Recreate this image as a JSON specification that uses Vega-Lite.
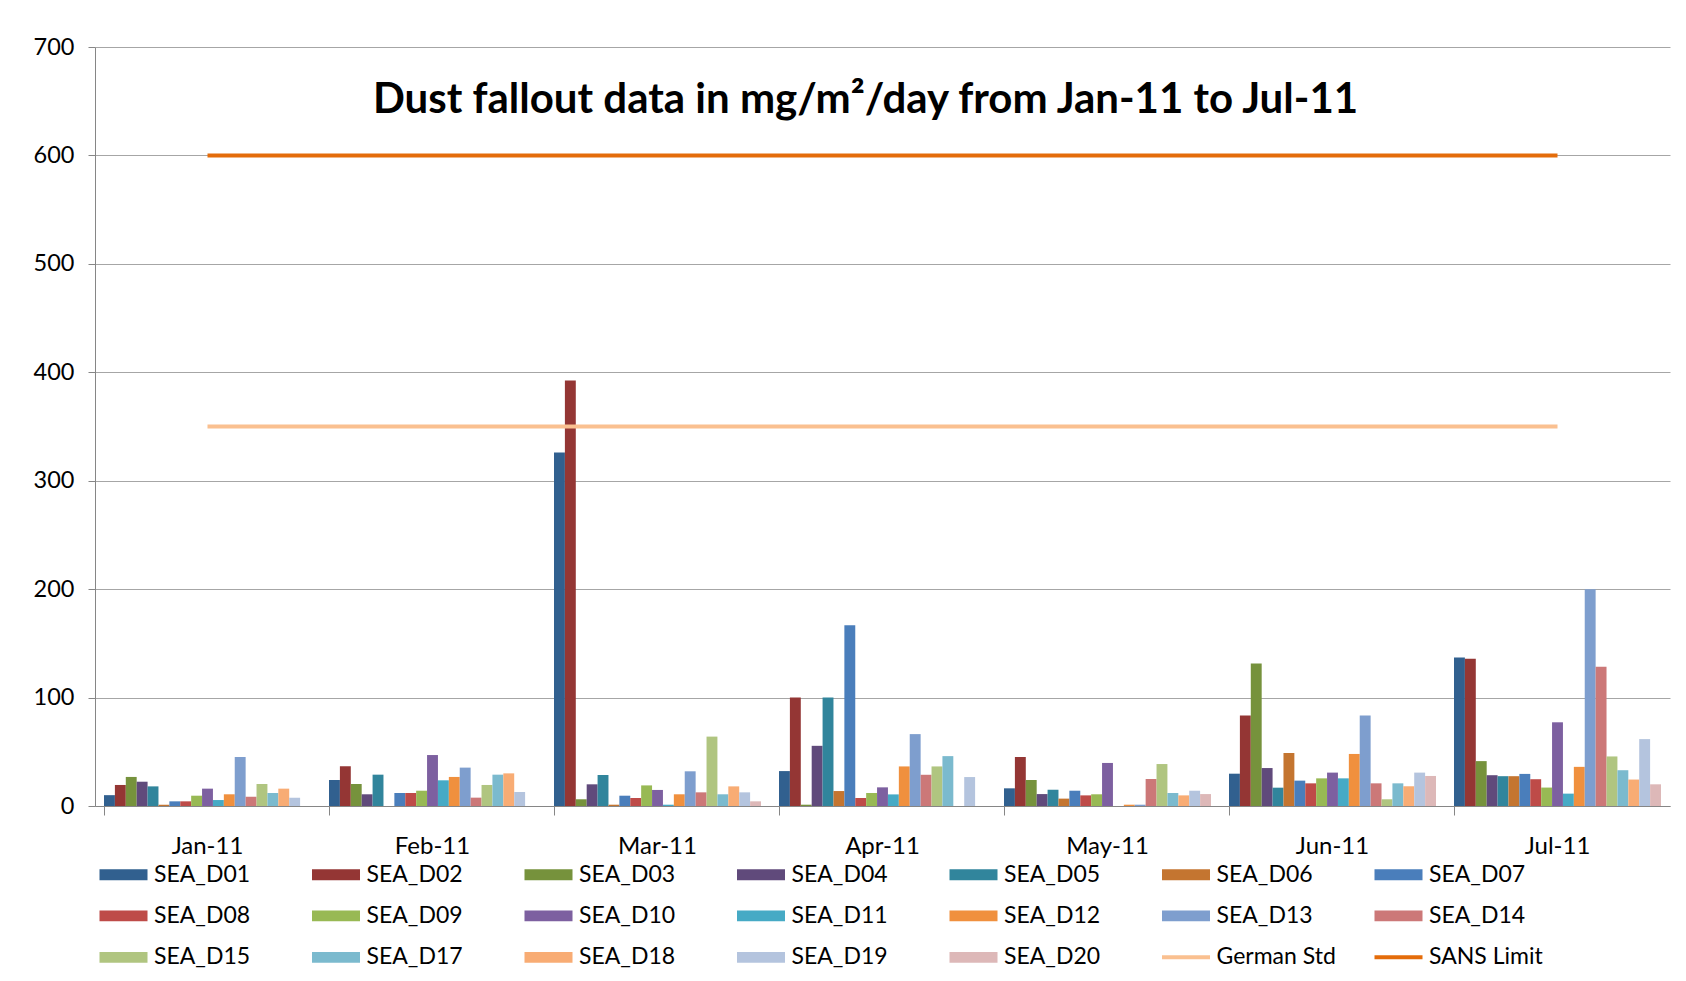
{
  "$schema": "https://vega.github.io/schema/vega-lite/v6.json",
  "width": 1575,
  "height": 759,
  "autosize": {"type": "none"},
  "padding": {"left": 95, "top": 47, "right": 16, "bottom": 175},
  "background": "white",
  "config": {"font": "Lato", "view": {"stroke": null}},
  "title": {"text": "Dust fallout data in mg/m²/day from Jan-11 to Jul-11", "fontSize": 42, "fontWeight": "bold", "font": "Lato", "color": "#000000", "anchor": "middle", "offset": -87, "dx": -17},
  "datasets": {
    "bars": [
      {"m":"Jan-11","s":"SEA_D01","v":10},{"m":"Jan-11","s":"SEA_D02","v":19.4},{"m":"Jan-11","s":"SEA_D03","v":26.8},{"m":"Jan-11","s":"SEA_D04","v":22.4},{"m":"Jan-11","s":"SEA_D05","v":18.1},{"m":"Jan-11","s":"SEA_D06","v":1.2},{"m":"Jan-11","s":"SEA_D07","v":4.3},{"m":"Jan-11","s":"SEA_D08","v":4.3},{"m":"Jan-11","s":"SEA_D09","v":9.5},{"m":"Jan-11","s":"SEA_D10","v":16},{"m":"Jan-11","s":"SEA_D11","v":5.5},{"m":"Jan-11","s":"SEA_D12","v":10.8},{"m":"Jan-11","s":"SEA_D13","v":45.2},{"m":"Jan-11","s":"SEA_D14","v":8.6},{"m":"Jan-11","s":"SEA_D15","v":20.3},{"m":"Jan-11","s":"SEA_D17","v":12},{"m":"Jan-11","s":"SEA_D18","v":16},{"m":"Jan-11","s":"SEA_D19","v":7.7},
      {"m":"Feb-11","s":"SEA_D01","v":24},{"m":"Feb-11","s":"SEA_D02","v":36.6},{"m":"Feb-11","s":"SEA_D03","v":20.3},{"m":"Feb-11","s":"SEA_D04","v":10.8},{"m":"Feb-11","s":"SEA_D05","v":28.9},{"m":"Feb-11","s":"SEA_D07","v":12},{"m":"Feb-11","s":"SEA_D08","v":12},{"m":"Feb-11","s":"SEA_D09","v":14.1},{"m":"Feb-11","s":"SEA_D10","v":47},{"m":"Feb-11","s":"SEA_D11","v":23.7},{"m":"Feb-11","s":"SEA_D12","v":26.8},{"m":"Feb-11","s":"SEA_D13","v":35.4},{"m":"Feb-11","s":"SEA_D14","v":7.7},{"m":"Feb-11","s":"SEA_D15","v":19.4},{"m":"Feb-11","s":"SEA_D17","v":28.9},{"m":"Feb-11","s":"SEA_D18","v":30.1},{"m":"Feb-11","s":"SEA_D19","v":12.9},
      {"m":"Mar-11","s":"SEA_D01","v":326},{"m":"Mar-11","s":"SEA_D02","v":392.4},{"m":"Mar-11","s":"SEA_D03","v":6.2},{"m":"Mar-11","s":"SEA_D04","v":20},{"m":"Mar-11","s":"SEA_D05","v":28.6},{"m":"Mar-11","s":"SEA_D06","v":1.2},{"m":"Mar-11","s":"SEA_D07","v":9.5},{"m":"Mar-11","s":"SEA_D08","v":7.4},{"m":"Mar-11","s":"SEA_D09","v":19},{"m":"Mar-11","s":"SEA_D10","v":14.8},{"m":"Mar-11","s":"SEA_D11","v":1.2},{"m":"Mar-11","s":"SEA_D12","v":10.8},{"m":"Mar-11","s":"SEA_D13","v":32},{"m":"Mar-11","s":"SEA_D14","v":12.6},{"m":"Mar-11","s":"SEA_D15","v":64},{"m":"Mar-11","s":"SEA_D17","v":10.8},{"m":"Mar-11","s":"SEA_D18","v":18.1},{"m":"Mar-11","s":"SEA_D19","v":12.6},{"m":"Mar-11","s":"SEA_D20","v":4.3},
      {"m":"Apr-11","s":"SEA_D01","v":32.2},{"m":"Apr-11","s":"SEA_D02","v":100},{"m":"Apr-11","s":"SEA_D03","v":1.2},{"m":"Apr-11","s":"SEA_D04","v":55.5},{"m":"Apr-11","s":"SEA_D05","v":100},{"m":"Apr-11","s":"SEA_D06","v":13.8},{"m":"Apr-11","s":"SEA_D07","v":166.6},{"m":"Apr-11","s":"SEA_D08","v":7.4},{"m":"Apr-11","s":"SEA_D09","v":12},{"m":"Apr-11","s":"SEA_D10","v":17.2},{"m":"Apr-11","s":"SEA_D11","v":10.7},{"m":"Apr-11","s":"SEA_D12","v":36.5},{"m":"Apr-11","s":"SEA_D13","v":66.3},{"m":"Apr-11","s":"SEA_D14","v":28.8},{"m":"Apr-11","s":"SEA_D15","v":36.5},{"m":"Apr-11","s":"SEA_D17","v":46},{"m":"Apr-11","s":"SEA_D19","v":26.7},
      {"m":"May-11","s":"SEA_D01","v":16.3},{"m":"May-11","s":"SEA_D02","v":45.2},{"m":"May-11","s":"SEA_D03","v":24},{"m":"May-11","s":"SEA_D04","v":11},{"m":"May-11","s":"SEA_D05","v":15},{"m":"May-11","s":"SEA_D06","v":6.8},{"m":"May-11","s":"SEA_D07","v":14.1},{"m":"May-11","s":"SEA_D08","v":9.8},{"m":"May-11","s":"SEA_D09","v":10.8},{"m":"May-11","s":"SEA_D10","v":39.7},{"m":"May-11","s":"SEA_D12","v":1.2},{"m":"May-11","s":"SEA_D13","v":1.2},{"m":"May-11","s":"SEA_D14","v":24.9},{"m":"May-11","s":"SEA_D15","v":38.7},{"m":"May-11","s":"SEA_D17","v":12},{"m":"May-11","s":"SEA_D18","v":9.8},{"m":"May-11","s":"SEA_D19","v":14.1},{"m":"May-11","s":"SEA_D20","v":11},
      {"m":"Jun-11","s":"SEA_D01","v":29.8},{"m":"Jun-11","s":"SEA_D02","v":83.4},{"m":"Jun-11","s":"SEA_D03","v":131.4},{"m":"Jun-11","s":"SEA_D04","v":35},{"m":"Jun-11","s":"SEA_D05","v":16.9},{"m":"Jun-11","s":"SEA_D06","v":48.9},{"m":"Jun-11","s":"SEA_D07","v":23.4},{"m":"Jun-11","s":"SEA_D08","v":20.9},{"m":"Jun-11","s":"SEA_D09","v":25.5},{"m":"Jun-11","s":"SEA_D10","v":30.8},{"m":"Jun-11","s":"SEA_D11","v":25.5},{"m":"Jun-11","s":"SEA_D12","v":48},{"m":"Jun-11","s":"SEA_D13","v":83.4},{"m":"Jun-11","s":"SEA_D14","v":20.9},{"m":"Jun-11","s":"SEA_D15","v":6.2},{"m":"Jun-11","s":"SEA_D17","v":20.9},{"m":"Jun-11","s":"SEA_D18","v":18.2},{"m":"Jun-11","s":"SEA_D19","v":30.8},{"m":"Jun-11","s":"SEA_D20","v":27.7},
      {"m":"Jul-11","s":"SEA_D01","v":137},{"m":"Jul-11","s":"SEA_D02","v":135.8},{"m":"Jul-11","s":"SEA_D03","v":41.4},{"m":"Jul-11","s":"SEA_D04","v":28.4},{"m":"Jul-11","s":"SEA_D05","v":27.5},{"m":"Jul-11","s":"SEA_D06","v":27.5},{"m":"Jul-11","s":"SEA_D07","v":29.6},{"m":"Jul-11","s":"SEA_D08","v":24.7},{"m":"Jul-11","s":"SEA_D09","v":17},{"m":"Jul-11","s":"SEA_D10","v":77.2},{"m":"Jul-11","s":"SEA_D11","v":11.4},{"m":"Jul-11","s":"SEA_D12","v":36.1},{"m":"Jul-11","s":"SEA_D13","v":200},{"m":"Jul-11","s":"SEA_D14","v":128.4},{"m":"Jul-11","s":"SEA_D15","v":45.7},{"m":"Jul-11","s":"SEA_D17","v":33},{"m":"Jul-11","s":"SEA_D18","v":24.4},{"m":"Jul-11","s":"SEA_D19","v":61.7},{"m":"Jul-11","s":"SEA_D20","v":20}
    ],
    "limits": [
      {"m":"Jan-11","s":"German Std","v":350},{"m":"Feb-11","s":"German Std","v":350},{"m":"Mar-11","s":"German Std","v":350},{"m":"Apr-11","s":"German Std","v":350},{"m":"May-11","s":"German Std","v":350},{"m":"Jun-11","s":"German Std","v":350},{"m":"Jul-11","s":"German Std","v":350},
      {"m":"Jan-11","s":"SANS Limit","v":600},{"m":"Feb-11","s":"SANS Limit","v":600},{"m":"Mar-11","s":"SANS Limit","v":600},{"m":"Apr-11","s":"SANS Limit","v":600},{"m":"May-11","s":"SANS Limit","v":600},{"m":"Jun-11","s":"SANS Limit","v":600},{"m":"Jul-11","s":"SANS Limit","v":600}
    ]
  },
  "layer": [
    {
      "data": {"name": "bars"},
      "mark": {"type": "bar"},
      "encoding": {
        "x": {"field": "m", "type": "nominal", "sort": ["Jan-11","Feb-11","Mar-11","Apr-11","May-11","Jun-11","Jul-11"],
              "scale": {"paddingInner": 0.08, "paddingOuter": 0.04},
              "axis": {"title": null, "labelAngle": 0, "bandPosition": 0, "tickSize": 9, "labelPadding": 19, "labelFontSize": 24, "labelFont": "Lato", "labelColor": "#000000", "domainColor": "#868686", "tickColor": "#868686", "grid": false}},
        "xOffset": {"field": "s", "type": "nominal", "sort": ["SEA_D01","SEA_D02","SEA_D03","SEA_D04","SEA_D05","SEA_D06","SEA_D07","SEA_D08","SEA_D09","SEA_D10","SEA_D11","SEA_D12","SEA_D13","SEA_D14","SEA_D15","SEA_D17","SEA_D18","SEA_D19","SEA_D20"],
              "scale": {"paddingInner": 0, "paddingOuter": 0}},
        "y": {"field": "v", "type": "quantitative", "scale": {"domain": [0, 700]},
              "axis": {"title": null, "values": [0,100,200,300,400,500,600,700], "tickSize": 7, "labelPadding": 14, "labelFontSize": 23.5, "labelFont": "Lato", "labelColor": "#000000", "domainColor": "#868686", "tickColor": "#868686", "gridColor": "#A6A6A6", "gridWidth": 1}},
        "color": {"field": "s", "type": "nominal",
              "scale": {"domain": ["SEA_D01","SEA_D02","SEA_D03","SEA_D04","SEA_D05","SEA_D06","SEA_D07","SEA_D08","SEA_D09","SEA_D10","SEA_D11","SEA_D12","SEA_D13","SEA_D14","SEA_D15","SEA_D17","SEA_D18","SEA_D19","SEA_D20","German Std","SANS Limit"],
                        "range": ["#31608F","#943634","#76923C","#604A7B","#31859C","#C47530","#4A7EBB","#BE4B48","#98B954","#7D60A0","#46AAC5","#F0903E","#7E9ECE","#CC7878","#B0C580","#7BBACE","#F8AC74","#B4C4DE","#DDB8B8","#FAC090","#E46C0A"]},
              "legend": {"orient": "none", "direction": "horizontal", "legendX": 17, "legendY": 816, "title": null, "columns": 7, "gridAlign": "all", "columnPadding": 29.5, "rowPadding": 17.4, "padding": 0,
                         "symbolSize": 576, "labelOffset": 19, "labelFontSize": 23, "labelFont": "Lato", "labelColor": "#000000", "labelLimit": 300,
                         "encode": {"symbols": {"update": {
                           "shape": {"signal": "indexof(['German Std','SANS Limit'], datum.value) >= 0 ? 'M-2,0H2' : 'M-2,-0.45H2V0.45H-2Z'"},
                           "fill": {"signal": "indexof(['German Std','SANS Limit'], datum.value) >= 0 ? 'transparent' : scale('color', datum.value)"},
                           "stroke": {"signal": "indexof(['German Std','SANS Limit'], datum.value) >= 0 ? scale('color', datum.value) : 'transparent'"},
                           "strokeWidth": {"signal": "indexof(['German Std','SANS Limit'], datum.value) >= 0 ? 4 : 0"},
                           "opacity": {"value": 1}, "fillOpacity": {"value": 1}, "strokeOpacity": {"value": 1}
                         }}}}}
      }
    },
    {
      "data": {"name": "limits"},
      "mark": {"type": "line", "strokeWidth": 4},
      "encoding": {
        "x": {"field": "m", "type": "nominal", "sort": ["Jan-11","Feb-11","Mar-11","Apr-11","May-11","Jun-11","Jul-11"]},
        "y": {"field": "v", "type": "quantitative"},
        "color": {"field": "s", "type": "nominal"}
      }
    }
  ]
}
